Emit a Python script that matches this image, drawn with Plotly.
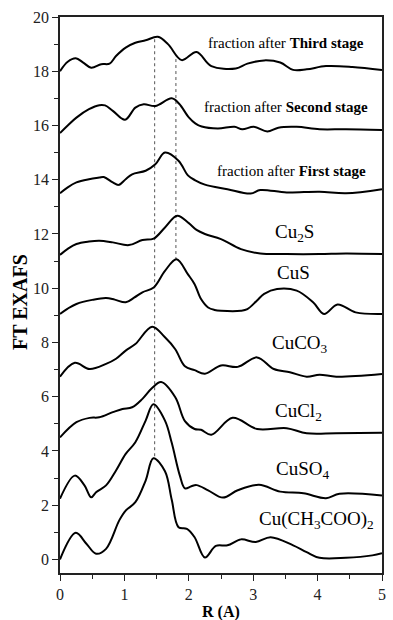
import plotly.graph_objects as go

# ---- data ----
third_r = [0, 0.12, 0.245, 0.36, 0.485, 0.64, 0.77, 0.87, 1.02, 1.17, 1.33, 1.52, 1.68, 1.89, 2.12, 2.35, 2.73, 2.91, 3.17, 3.42, 3.62, 3.83, 4.13, 4.54, 5.0]
third_v = [18.0, 18.35, 18.48, 18.32, 18.13, 18.26, 18.28, 18.56, 18.87, 19.05, 19.14, 19.27, 18.99, 18.41, 18.71, 18.19, 18.10, 18.28, 18.40, 18.32, 18.05, 18.07, 18.19, 18.16, 18.05]

second_r = [0, 0.12, 0.255, 0.45, 0.61, 0.7, 0.82, 1.01, 1.17, 1.30, 1.48, 1.735, 1.85, 2.0, 2.1, 2.2, 2.45, 2.71, 2.83, 3.01, 3.22, 3.39, 3.675, 4.03, 4.44, 5.0]
second_v = [15.72, 16.0, 16.29, 16.6, 16.75, 16.74, 16.54, 16.21, 16.66, 16.78, 16.72, 17.0, 16.8, 16.3, 16.08, 15.96, 15.89, 15.95, 15.86, 15.95, 15.78, 15.92, 15.95, 15.86, 15.86, 15.83]

first_r = [0, 0.12, 0.255, 0.45, 0.61, 0.68, 0.82, 0.91, 1.02, 1.12, 1.33, 1.48, 1.63, 1.84, 1.99, 2.1, 2.25, 2.6, 2.96, 3.11, 3.52, 4.03, 4.44, 5.0]
first_v = [13.5, 13.72, 13.9, 14.02, 14.08, 14.1, 13.9, 13.81, 14.02, 14.2, 14.33, 14.57, 15.0, 14.7, 14.15, 13.98, 13.82, 13.65, 13.49, 13.62, 13.53, 13.56, 13.5, 13.65]

cu2s_r = [0, 0.12, 0.255, 0.45, 0.61, 0.82, 1.07, 1.28, 1.455, 1.63, 1.82, 2.0, 2.12, 2.25, 2.5, 2.81, 3.11, 3.52, 4.03, 4.44, 5.0]
cu2s_v = [11.23, 11.45, 11.63, 11.72, 11.75, 11.69, 11.59, 11.78, 11.83, 12.24, 12.67, 12.4, 12.15, 12.0, 11.81, 11.44, 11.28, 11.26, 11.26, 11.28, 11.26]

cus_r = [0, 0.12, 0.255, 0.5, 0.715, 0.85, 1.02, 1.15, 1.28, 1.455, 1.63, 1.81, 1.99, 2.09, 2.19, 2.30, 2.4, 2.5, 2.81, 2.91, 3.06, 3.17, 3.37, 3.675, 3.93, 4.1, 4.31, 4.59, 5.0]
cus_v = [9.05, 9.25, 9.42, 9.57, 9.64, 9.58, 9.48, 9.65, 9.85, 10.03, 10.64, 11.07, 10.5, 10.15, 9.6, 9.29, 9.2, 9.17, 9.17, 9.23, 9.55, 9.79, 9.97, 9.91, 9.48, 9.05, 9.40, 9.11, 9.05]

cuco3_r = [0, 0.23, 0.46, 0.715, 0.87, 1.02, 1.17, 1.43, 1.63, 1.79, 1.94, 2.09, 2.25, 2.5, 2.76, 3.06, 3.32, 3.57, 3.83, 4.03, 4.29, 5.0]
cuco3_v = [6.74, 7.25, 7.02, 7.21, 7.4, 7.70, 7.94, 8.58, 8.19, 7.75, 7.12, 6.98, 6.85, 7.15, 7.1, 7.45, 7.02, 6.90, 6.74, 6.81, 6.74, 6.84]

cucl2_r = [0, 0.255, 0.46, 0.61, 0.82, 0.97, 1.12, 1.28, 1.43, 1.57, 1.79, 1.94, 2.09, 2.19, 2.35, 2.68, 3.06, 3.52, 3.83, 4.29, 5.0]
cucl2_v = [4.5, 5.06, 5.22, 5.24, 5.43, 5.55, 5.61, 5.92, 6.32, 6.54, 5.98, 5.1, 4.81, 4.78, 4.6, 5.22, 4.81, 4.84, 4.65, 4.65, 4.67]

cuso4_r = [0, 0.23, 0.38, 0.485, 0.56, 0.715, 0.87, 1.02, 1.17, 1.33, 1.45, 1.63, 1.735, 1.86, 1.94, 2.04, 2.12, 2.30, 2.53, 2.76, 3.09, 3.42, 3.78, 4.13, 4.34, 5.0]
cuso4_v = [2.24, 3.09, 2.73, 2.29, 2.48, 2.73, 3.28, 3.89, 4.32, 5.12, 5.72, 5.12, 4.3, 3.1, 2.62, 2.7, 2.74, 2.55, 2.28, 2.55, 2.75, 2.50, 2.44, 2.26, 2.42, 2.36]

acet_r = [0, 0.245, 0.41, 0.56, 0.715, 0.92, 1.02, 1.17, 1.33, 1.45, 1.63, 1.735, 1.84, 1.97, 2.09, 2.25, 2.42, 2.6, 2.81, 3.04, 3.27, 3.62, 3.83, 4.03, 4.44, 4.85, 5.0]
acet_v = [0.0, 0.98, 0.58, 0.21, 0.39, 1.44, 1.80, 2.11, 2.91, 3.73, 3.25, 2.2, 1.19, 1.13, 0.82, 0.07, 0.5, 0.52, 0.74, 0.64, 0.82, 0.52, 0.27, 0.06, 0.06, 0.15, 0.23]

series = [
    (third_r, third_v), (second_r, second_v), (first_r, first_v),
    (cu2s_r, cu2s_v), (cus_r, cus_v), (cuco3_r, cuco3_v),
    (cucl2_r, cucl2_v), (cuso4_r, cuso4_v), (acet_r, acet_v),
]

# dotted guide lines
guide_r = [1.47, 1.80]
guide_top = [19.18, 18.45]
guide_bottom = [3.76, 11.03]

# labels
label_text = [
    "fraction after <b>Third stage</b>",
    "fraction after <b>Second stage</b>",
    "fraction after <b>First stage</b>",
    "Cu<sub>2</sub>S", "CuS", "CuCO<sub>3</sub>", "CuCl<sub>2</sub>", "CuSO<sub>4</sub>",
    "Cu(CH<sub>3</sub>COO)<sub>2</sub>",
]
label_r = [3.51, 3.51, 3.59, 3.64, 3.62, 3.72, 3.70, 3.77, 3.99]
label_y = [19.04, 16.68, 14.33, 12.05, 10.58, 7.95, 5.45, 3.3, 1.45]
label_size = [15, 15, 15, 19, 19, 19, 19, 19, 19]

x_ticks = [0, 1, 2, 3, 4, 5]
y_ticks = [0, 2, 4, 6, 8, 10, 12, 14, 16, 18, 20]

FONT = "Liberation Serif, Times New Roman, serif"

fig = go.Figure()
for r, v in zip(guide_r, zip(guide_top, guide_bottom)):
    fig.add_trace(go.Scatter(x=[r, r], y=list(v), mode="lines",
                             line=dict(color="#555555", width=1, dash="dot"),
                             hoverinfo="skip", showlegend=False))
for r, v in series:
    fig.add_trace(go.Scatter(x=r, y=v, mode="lines",
                             line=dict(color="black", width=2, shape="spline", smoothing=1.0),
                             showlegend=False))

for t, r, y, s in zip(label_text, label_r, label_y, label_size):
    fig.add_annotation(x=r, y=y, xref="x", yref="y", text=t, showarrow=False,
                       font=dict(family=FONT, size=s, color="black"),
                       xanchor="center", yanchor="middle")

fig.add_annotation(x=0, y=0.5, xref="paper", yref="paper", text="<b>FT EXAFS</b>",
                   textangle=-90, showarrow=False, xshift=-40, yshift=-7,
                   xanchor="center", yanchor="middle",
                   font=dict(family=FONT, size=20, color="black"))
fig.add_annotation(x=0.5, y=0, xref="paper", yref="paper", text="<b>R (A)</b>",
                   showarrow=False, yshift=-39, xanchor="center", yanchor="middle",
                   font=dict(family=FONT, size=16, color="black"))

axis_common = dict(showgrid=False, zeroline=False, showline=True, linecolor="#222222",
                   linewidth=1.5, mirror=True, ticks="outside", ticklen=6, tickwidth=1.3,
                   tickcolor="#222222", tickfont=dict(family=FONT, size=16, color="#222222"))

fig.update_layout(
    width=393, height=620,
    margin=dict(l=60, r=7, t=17, b=47),
    plot_bgcolor="white", paper_bgcolor="white",
    font=dict(family=FONT, color="black"),
    xaxis=dict(range=[0, 5], tickvals=x_ticks,
               minor=dict(dtick=0.5, ticks="outside", ticklen=4, tickcolor="#222222"),
               **axis_common),
    yaxis=dict(range=[-0.5, 20], tickvals=y_ticks,
               minor=dict(dtick=1, ticks="outside", ticklen=4, tickcolor="#222222"),
               **axis_common),
)

fig.write_html("out.html", config={"displayModeBar": False},
               post_script="document.body.style.margin='0';")
